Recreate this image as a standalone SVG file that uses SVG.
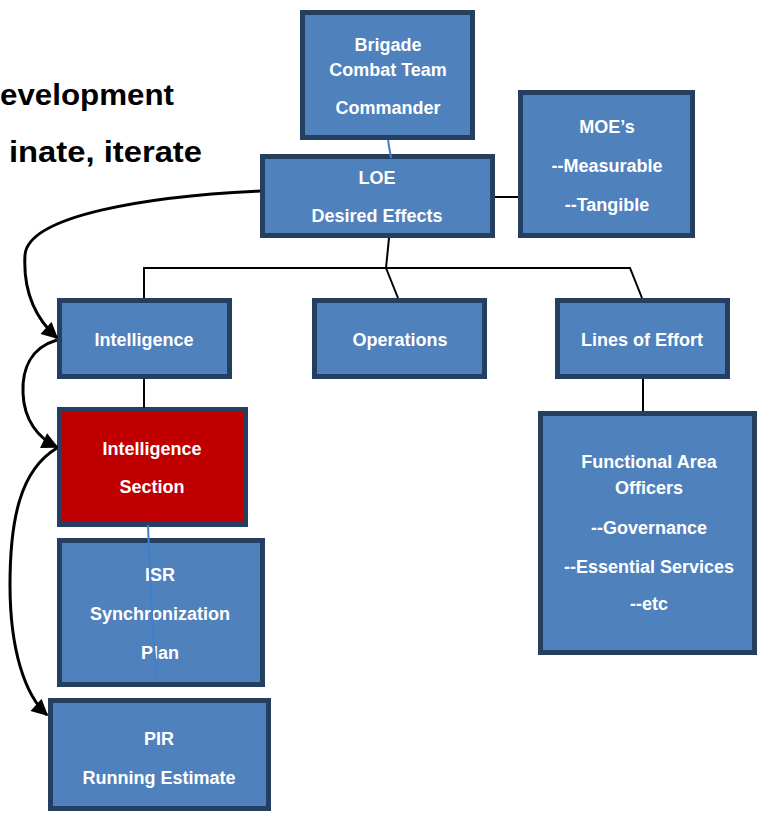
<svg xmlns="http://www.w3.org/2000/svg" width="758" height="813" viewBox="0 0 758 813">
<style>
.box{fill:#4F81BD;stroke:#243F60;stroke-width:5}
.red{fill:#C00000}
.t{font-family:"Liberation Sans",Arial,sans-serif;font-weight:bold;font-size:18px;fill:#FFFFFF;text-anchor:middle}
.h{font-family:"Liberation Sans",Arial,sans-serif;font-weight:bold;font-size:30px;fill:#000000}
.ln{fill:none;stroke:#000000;stroke-width:2}
.cv{fill:none;stroke:#000000;stroke-width:3;marker-end:url(#ah)}
.bl{fill:none;stroke:#3F7FCB;stroke-width:2}
</style>
<defs>
<marker id="ah" viewBox="0 0 10 10" refX="9" refY="5" markerWidth="6" markerHeight="5.5" orient="auto" markerUnits="strokeWidth">
<path d="M0,0 L10,5 L0,10 z" fill="#000000"/>
</marker>
</defs>
<rect width="758" height="813" fill="#FFFFFF"/>
<text class="h" x="0" y="105" textLength="174" lengthAdjust="spacingAndGlyphs">evelopment</text>
<text class="h" x="9" y="162" textLength="193" lengthAdjust="spacingAndGlyphs">inate, iterate</text>

<g id="bct">
<rect class="box" x="302.5" y="12.5" width="170" height="125"/>
<text class="t" x="388" y="51">Brigade</text>
<text class="t" x="388" y="76">Combat Team</text>
<text class="t" x="388" y="114">Commander</text>
</g>
<g id="loe">
<rect class="box" x="262.5" y="156.5" width="230" height="79"/>
<text class="t" x="377" y="184">LOE</text>
<text class="t" x="377" y="222">Desired Effects</text>
</g>
<g id="moe">
<rect class="box" x="520.5" y="92.5" width="172" height="143"/>
<text class="t" x="607" y="133">MOE’s</text>
<text class="t" x="607" y="172">--Measurable</text>
<text class="t" x="607" y="211">--Tangible</text>
</g>
<g id="intelligence">
<rect class="box" x="59.5" y="300.5" width="170" height="76"/>
<text class="t" x="144" y="346">Intelligence</text>
</g>
<g id="operations">
<rect class="box" x="314.5" y="300.5" width="170" height="76"/>
<text class="t" x="400" y="346">Operations</text>
</g>
<g id="lines-of-effort">
<rect class="box" x="557.5" y="300.5" width="170" height="76"/>
<text class="t" x="642" y="346">Lines of Effort</text>
</g>
<g id="intel-section">
<rect class="box red" x="59.5" y="409.5" width="186" height="115"/>
<text class="t" x="152" y="455">Intelligence</text>
<text class="t" x="152" y="493">Section</text>
</g>
<g id="isr">
<rect class="box" x="59.5" y="540.5" width="203" height="144"/>
<text class="t" x="160" y="581">ISR</text>
<text class="t" x="160" y="620">Synchronization</text>
<text class="t" x="160" y="659">Plan</text>
</g>
<g id="pir">
<rect class="box" x="50.5" y="700.5" width="218" height="108"/>
<text class="t" x="159" y="745">PIR</text>
<text class="t" x="159" y="784">Running Estimate</text>
</g>
<g id="fao">
<rect class="box" x="540.5" y="413.5" width="214" height="239"/>
<text class="t" x="649" y="468">Functional Area</text>
<text class="t" x="649" y="494">Officers</text>
<text class="t" x="649" y="534">--Governance</text>
<text class="t" x="649" y="573">--Essential Services</text>
<text class="t" x="649" y="610">--etc</text>
</g>

<g id="connectors">
<path class="bl" d="M388,140 L391,158"/>
<path class="ln" d="M495,197 L518,197"/>
<path class="ln" d="M389,238 L386,268"/>
<path class="ln" d="M144,298 L144,268 L630,268 L642,298"/>
<path class="ln" d="M386,268 L398,298"/>
<path class="ln" d="M144,379 L144,408"/>
<path class="ln" d="M643,379 L643,411"/>
<path class="bl" d="M148,525 C150,580 153,640 157,680"/>
<path class="cv" d="M260,191 C150,196 28,215 25,255 C23,290 35,318 57,338"/>
<path class="cv" d="M57,340 C30,348 22,370 23,393 C24,420 38,438 57,447"/>
<path class="cv" d="M57,448 C20,470 10,520 10,585 C10,650 25,695 47,715"/>
</g>
</svg>
